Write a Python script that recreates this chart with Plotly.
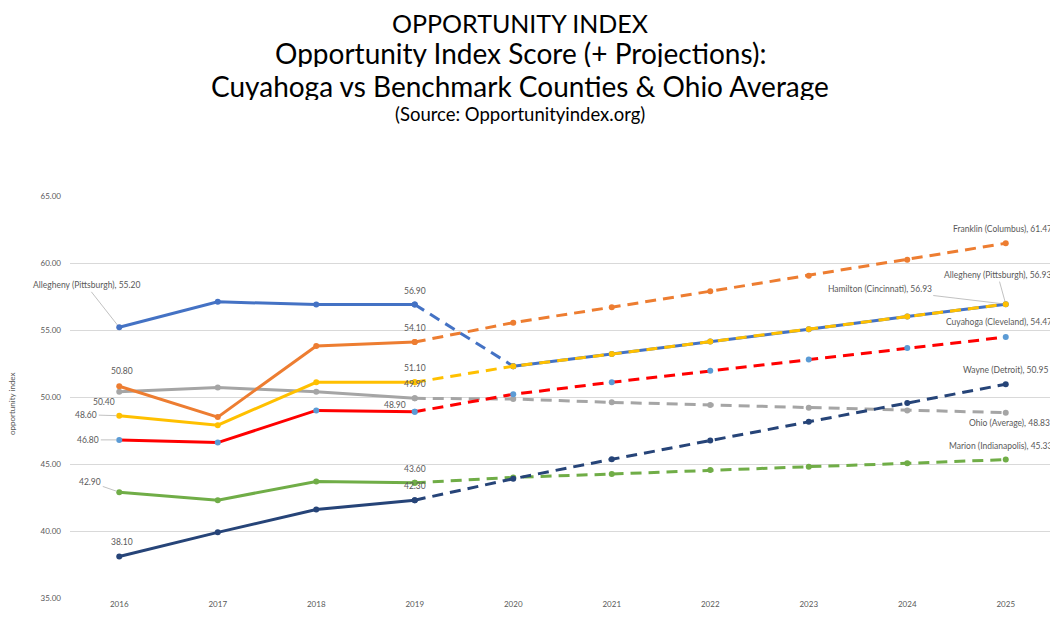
import plotly.graph_objects as go

# ---------------- data ----------------
years = [2016, 2017, 2018, 2019, 2020, 2021, 2022, 2023, 2024, 2025]
year_labels = [str(y) for y in years]
y_ticks = [35, 40, 45, 50, 55, 60, 65]

allegheny = [55.2, 57.1, 56.9, 56.9, 52.3, 53.2, 54.15, 55.05, 56.0, 56.93]
franklin = [50.8, 48.5, 53.8, 54.1, 55.55, 56.7, 57.9, 59.05, 60.25, 61.47]
ohio = [50.4, 50.7, 50.4, 49.9, 49.85, 49.6, 49.4, 49.2, 49.0, 48.83]
hamilton = [48.6, 47.9, 51.1, 51.1, 52.3, 53.2, 54.15, 55.05, 56.0, 56.93]
cuyahoga = [46.8, 46.6, 49.0, 48.9, 50.2, 51.1, 51.95, 52.8, 53.65, 54.47]
marion = [42.9, 42.3, 43.7, 43.6, 44.0, 44.25, 44.55, 44.8, 45.05, 45.33]
wayne = [38.1, 39.9, 41.6, 42.3, 43.9, 45.35, 46.75, 48.15, 49.55, 50.95]

names = {
    "allegheny": "Allegheny (Pittsburgh)",
    "franklin": "Franklin (Columbus)",
    "ohio": "Ohio (Average)",
    "hamilton": "Hamilton (Cincinnati)",
    "cuyahoga": "Cuyahoga (Cleveland)",
    "marion": "Marion (Indianapolis)",
    "wayne": "Wayne (Detroit)",
}

# ---------------- styles ----------------
FONT = "Lato"
TXT = "#595959"
C_BLUE = "#4472C4"
C_ORANGE = "#ED7D31"
C_GRAY = "#A5A5A5"
C_YELLOW = "#FFC000"
C_RED = "#FF0000"
C_LBLUE = "#5B9BD5"
C_GREEN = "#70AD47"
C_NAVY = "#264478"
LW = 3
DASH = "11px,7px"
MS = 6

H = 4  # index splitting history / projection (2019 shared)

fig = go.Figure()


def add_series(vals, color, mcolor=None, proj=True, proj_dash=DASH, start=H - 1, end=None):
    mcolor = mcolor or color
    fig.add_trace(go.Scatter(
        x=years[:H], y=vals[:H], mode="lines+markers",
        line=dict(color=color, width=LW),
        marker=dict(color=mcolor, size=MS), showlegend=False, hoverinfo="x+y"))
    if proj:
        fig.add_trace(go.Scatter(
            x=years[start:end], y=vals[start:end], mode="lines+markers",
            line=dict(color=color, width=LW, dash=proj_dash),
            marker=dict(color=mcolor, size=MS), showlegend=False, hoverinfo="x+y"))


# draw order
add_series(ohio, C_GRAY)
add_series(marion, C_GREEN)
add_series(wayne, C_NAVY)
add_series(cuyahoga, C_RED, C_LBLUE)
add_series(franklin, C_ORANGE)
# Allegheny: dashed 2019-2020, then solid underneath the dashed Hamilton line
add_series(allegheny, C_BLUE, proj=True, start=H - 1, end=H + 1)
fig.add_trace(go.Scatter(
    x=years[H:], y=allegheny[H:], mode="lines+markers",
    line=dict(color=C_BLUE, width=LW), marker=dict(color=C_BLUE, size=MS),
    showlegend=False, hoverinfo="x+y"))
add_series(hamilton, C_YELLOW)

# ---------------- data labels ----------------
ann = []
lab_font = dict(family=FONT, size=8.5, color=TXT)
lead = "#A6A6A6"


def lbl(x, y, text, xs=0, ys=14, xanchor="center"):
    ann.append(dict(x=x, y=y, xref="x", yref="y", text=text, showarrow=False,
                    xshift=xs, yshift=ys, xanchor=xanchor, yanchor="middle", font=lab_font))


def lead_lbl(x, y, text, ax, ay):
    ann.append(dict(x=x, y=y, xref="x", yref="y", text=text, showarrow=True,
                    arrowhead=0, arrowwidth=0.7, arrowcolor=lead, ax=ax, ay=ay,
                    standoff=3, font=lab_font))


i0, i3, i9 = 0, 3, 9
# 2016
lead_lbl(years[i0], allegheny[i0], f"{names['allegheny']}, {allegheny[i0]:.2f}", -33, -42)
lbl(years[i0], franklin[i0], f"{franklin[i0]:.2f}", 3, 15)
lbl(years[i0], ohio[i0], f"{ohio[i0]:.2f}", -15, -10)
lead_lbl(years[i0], hamilton[i0], f"{hamilton[i0]:.2f}", -33, -1)
lead_lbl(years[i0], cuyahoga[i0], f"{cuyahoga[i0]:.2f}", -31, 0)
lead_lbl(years[i0], marion[i0], f"{marion[i0]:.2f}", -29, -10)
lbl(years[i0], wayne[i0], f"{wayne[i0]:.2f}", 3, 14)
# 2019
lbl(years[i3], allegheny[i3], f"{allegheny[i3]:.2f}", 0, 14)
lbl(years[i3], franklin[i3], f"{franklin[i3]:.2f}", 0, 14)
lbl(years[i3], hamilton[i3], f"{hamilton[i3]:.2f}", 0, 14)
lbl(years[i3], ohio[i3], f"{ohio[i3]:.2f}", 0, 14)
lbl(years[i3], cuyahoga[i3], f"{cuyahoga[i3]:.2f}", -20, 7)
lbl(years[i3], marion[i3], f"{marion[i3]:.2f}", 0, 14)
lbl(years[i3], wayne[i3], f"{wayne[i3]:.2f}", 0, 14)
# 2025
lbl(years[i9], franklin[i9], f"{names['franklin']}, {franklin[i9]:.2f}", 48, 14, "right")
lead_lbl(years[i9], allegheny[i9], f"{names['allegheny']}, {allegheny[i9]:.2f}", -8, -29)
lead_lbl(years[i9], hamilton[i9], f"{names['hamilton']}, {hamilton[i9]:.2f}", -126, -15)
lbl(years[i9], cuyahoga[i9], f"{names['cuyahoga']}, {cuyahoga[i9]:.2f}", 48, 15, "right")
lbl(years[i9], wayne[i9], f"{names['wayne']}, {wayne[i9]:.2f}", 44, 14, "right")
lbl(years[i9], ohio[i9], f"{names['ohio']}, {ohio[i9]:.2f}", 46, -10, "right")
lbl(years[i9], marion[i9], f"{names['marion']}, {marion[i9]:.2f}", 48, 14, "right")

# ---------------- titles ----------------
# figure is 1050x611 (page body adds an 8px offset); plot area 985x402
# (text, font size, paper y, anchor, box height)
title_lines = [
    ("OPPORTUNITY INDEX", 25, 1.4677, "top", 26),
    ("Opportunity Index Score (+ Projections):", 28, 1.358, "middle", 29),
    ("Cuyahoga vs Benchmark Counties &amp; Ohio Average", 28, 1.274, "middle", 29),
    ("(Source: Opportunityindex.org)", 18.5, 1.206, "middle", 21),
]
for t, s, yy, ya, hh in title_lines:
    ann.append(dict(x=0.457, y=yy, xref="paper", yref="paper", text=t, showarrow=False,
                    xanchor="center", yanchor=ya, height=hh, valign="middle",
                    font=dict(family=FONT, size=s, color="#000000")))

ann.append(dict(x=-0.0589, y=0.485, xref="paper", yref="paper", text="opportunity index",
                showarrow=False, textangle=-90, xanchor="center", yanchor="middle",
                font=dict(family=FONT, size=8, color=TXT)))

fig.update_layout(
    width=1050, height=611,
    margin=dict(l=62, r=3, t=188, b=21),
    paper_bgcolor="white", plot_bgcolor="white",
    showlegend=False,
    annotations=ann,
    font=dict(family=FONT, color=TXT),
)
fig.update_xaxes(range=[2015.5, 2025.5], tickvals=years, ticktext=year_labels,
                 showgrid=False, zeroline=False, showline=False, ticks="",
                 tickfont=dict(family=FONT, size=8, color=TXT))
fig.update_yaxes(range=[35, 65], tickvals=y_ticks, tickformat=".2f",
                 showgrid=True, gridcolor="#D9D9D9", gridwidth=1, zeroline=False,
                 showline=False, ticks="", ticklabelstandoff=8,
                 tickfont=dict(family=FONT, size=8, color=TXT))

fig.write_html("out.html")
